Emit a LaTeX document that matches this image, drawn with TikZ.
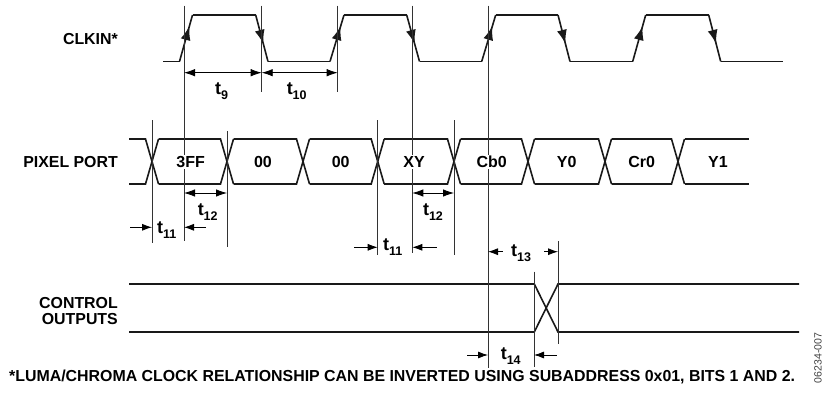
\documentclass[tikz,border=0pt]{standalone}
\usepackage{fontspec}
\setmainfont{Liberation Sans}
\usetikzlibrary{arrows.meta,decorations.markings}

\tikzset{
  sigline/.style={line width=1.6pt, black!90},
  refline/.style={line width=0.8pt, black!80},
  dimarrow/.style={line width=0.8pt, {Latex[length=11pt,width=7.5pt]}-{Latex[length=11pt,width=7.5pt]}},
  stubarrow/.style={line width=0.8pt, -{Latex[length=10pt,width=7pt]}},
  risetip/.style={postaction={decorate}, decoration={markings,
      mark=at position 0.76 with {\arrow{Latex[length=14pt,width=10pt]}}}},
  falltip/.style={postaction={decorate}, decoration={markings,
      mark=at position 0.62 with {\arrow{Latex[length=14pt,width=10pt]}}}},
  siglabel/.style={font=\bfseries\fontsize{15.9}{16}\selectfont, align=right, anchor=east, inner sep=0pt},
  datalabel/.style={font=\bfseries\fontsize{16}{16}\selectfont, inner sep=0pt},
  tlabel/.style={font=\bfseries\fontsize{18}{18}\selectfont, inner sep=0pt},
}
\newcommand{\tsub}[1]{t\raisebox{-0.3em}{\fontsize{12.5}{12.5}\selectfont #1}}

\begin{document}
\begin{tikzpicture}[x=1pt,y=-1pt]
  \useasboundingbox (0,0) rectangle (825,396);
  %levels of the waveforms
  \def\clkhi{15} \def\clklo{61.5}
  \def\bustop{139} \def\busbot{184}
  \def\ctltop{284} \def\ctlbot{332}

  %signal names
  \node [siglabel] (clkname) at (118,39) {CLKIN*};
  \node [siglabel] (pixname) at (118,162) {PIXEL PORT};
  \node [siglabel] (ctlname) at (118,310.7) {CONTROL\\OUTPUTS};

  %clock, one period per loop
  \draw [sigline] (163,\clklo) -- (179.5,\clklo);
  \foreach \xr/\xt/\xf/\xb/\xe in {179.5/192.5/255.7/268/330,
                                   330/344/406.7/419.5/481.7,
                                   481.7/495.7/558/570/632.7,
                                   632.7/645.7/708.7/720.7/783}{
    \draw [sigline, risetip] (\xr,\clklo) -- (\xt,\clkhi);
    \draw [sigline] (\xt,\clkhi) -- (\xf,\clkhi);
    \draw [sigline, falltip] (\xf,\clkhi) -- (\xb,\clklo);
    \draw [sigline] (\xb,\clklo) -- (\xe,\clklo);
  }

  %pixel port bus
  \draw [sigline] (129,\bustop) -- (145.5,\bustop) -- (158.5,\busbot);
  \draw [sigline] (129,\busbot) -- (145.5,\busbot) -- (158.5,\bustop);
  \foreach \xa/\xb in {152/227,227/303,303/377.7,377.7/454,454/528,528/605,605/678}{
    \draw [sigline] (\xa+6.5,\bustop) -- (\xb-6.5,\bustop) -- (\xb+6.5,\busbot);
    \draw [sigline] (\xa+6.5,\busbot) -- (\xb-6.5,\busbot) -- (\xb+6.5,\bustop);
  }
  \draw [sigline] (684.5,\bustop) -- (749,\bustop);
  \draw [sigline] (684.5,\busbot) -- (749,\busbot);

  %control outputs
  \draw [sigline] (129,\ctltop) -- (534.3,\ctltop) -- (558,\ctlbot) -- (799,\ctlbot);
  \draw [sigline] (129,\ctlbot) -- (534.3,\ctlbot) -- (558,\ctltop) -- (799,\ctltop);

  %reference lines
  \foreach \nm/\xp/\ya/\yb in {ra/184/5.7/240.7, rb/261.7/5.7/91.7, rc/337.7/5.7/91.7,
                               rd/412.3/5.7/253, re/488/5.7/368,
                               rf/152/120/242.7, rg/227/131/246.7, rh/377.7/120/255,
                               ri/454/120/255, rj/558/241/344.3, rk/534/271.7/366.7}{
    \coordinate (\nm) at (\xp,\ya);
    \draw [refline] (\nm) -- (\xp,\yb);
  }

  %bus contents, over the reference lines
  \foreach \nm/\xp/\txt in {d1/190.7/3FF, d2/263/00, d3/340.7/00, d4/414/XY,
                            d5/491.7/Cb0, d6/566.7/Y0, d7/641.7/Cr0, d8/718/Y1}{
    \node [datalabel, fill=white, inner sep=1.5pt] (\nm) at (\xp,162) {\txt};
  }

  %periods of the clock
  \draw [dimarrow] (ra |- 0,72.7) -- (rb |- 0,72.7);
  \draw [dimarrow] (rb |- 0,72.7) -- (rc |- 0,72.7);
  \node [tlabel] (t9) at (221.7,91) {\tsub{9}};
  \node [tlabel] (t10) at (296.7,91) {\tsub{10}};

  %hold times
  \draw [dimarrow] (ra |- 0,193) -- (rg |- 0,193);
  \draw [dimarrow] (rd |- 0,193) -- (ri |- 0,193);
  \node [tlabel] (t12a) at (207.7,212) {\tsub{12}};
  \node [tlabel] (t12b) at (433,212) {\tsub{12}};

  %setup times
  \coordinate (sa) at (130,227.3);
  \coordinate (sb) at (206,227.3);
  \coordinate (sc) at (354,247.3);
  \coordinate (sd) at (436.7,247.3);
  \draw [stubarrow] (sa) -- (rf |- sa);
  \draw [stubarrow] (sb) -- (ra |- sb);
  \draw [stubarrow] (sc) -- (rh |- sc);
  \draw [stubarrow] (sd) -- (rd |- sd);
  \node [tlabel] (t11a) at (166.7,230) {\tsub{11}};
  \node [tlabel] (t11b) at (392.7,247) {\tsub{11}};

  %output delays
  \coordinate (oa) at (502.7,251.7);
  \coordinate (ob) at (544,251.7);
  \coordinate (oc) at (467,355);
  \coordinate (od) at (556.7,355);
  \draw [stubarrow] (oa) -- (re |- oa);
  \draw [stubarrow] (ob) -- (rj |- ob);
  \draw [stubarrow] (oc) -- (re |- oc);
  \draw [stubarrow] (od) -- (rk |- od);
  \node [tlabel] (t13) at (521,253) {\tsub{13}};
  \node [tlabel] (t14) at (510.7,356) {\tsub{14}};

  %note and part number
  \node [font=\bfseries\fontsize{15.9}{16}\selectfont, inner sep=0pt, anchor=west] (note) at (9,376.7)
    {*LUMA/CHROMA CLOCK RELATIONSHIP CAN BE INVERTED USING SUBADDRESS 0x01, BITS 1 AND 2.};
  \node [font=\fontsize{10.5}{10.5}\selectfont, black!75, rotate=90, inner sep=0pt] (partno) at (818,358) {06234-007};
\end{tikzpicture}
\end{document}
